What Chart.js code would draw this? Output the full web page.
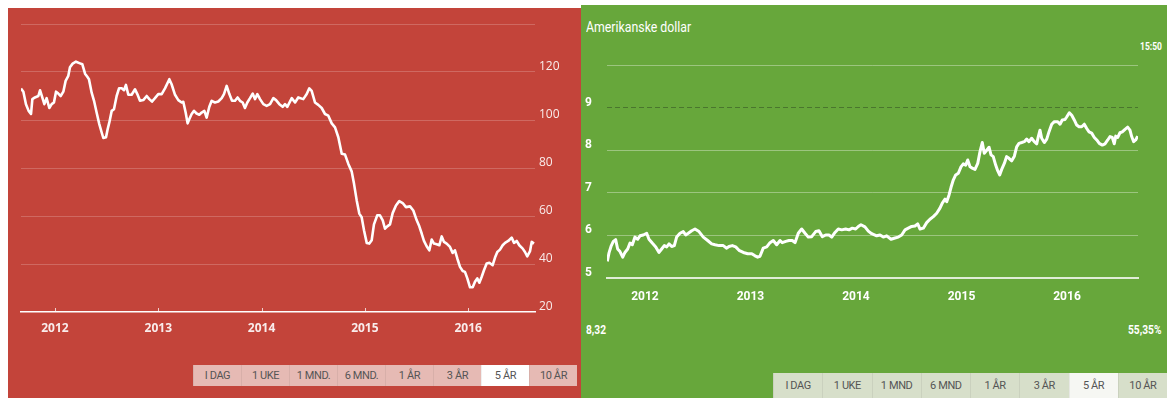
<!DOCTYPE html>
<html>
<head>
<meta charset="utf-8">
<script src="https://cdn.jsdelivr.net/npm/chart.js@4.4.1/dist/chart.umd.min.js"></script>
<style>
  body { margin: 0; background: #fff; width: 1167px; height: 398px; overflow: hidden; position: relative; font-family: Roboto, "Open Sans", sans-serif; }
  .panel { position: absolute; }
  #oilPanel { left: 8px; top: 8px; width: 573px; height: 390px; background: #c3443a; }
  #usdPanel { left: 581px; top: 5px; width: 586px; height: 393px; background: #67a73b; }
  canvas { position: absolute; }
  .bar { position: absolute; display: flex; }
  .bar div { flex: 1; text-align: center; font-size: 11px; color: #555; letter-spacing: -0.4px; border-left: 1px solid rgba(0,0,0,0.06); }
  .bar div.on { background: #fff; }
  #oilBar { left: 185px; top: 357px; width: 384px; height: 21px; background: #e6bab4; }
  #oilBar div { line-height: 21px; }
  #usdBar { left: 192px; top: 368px; width: 394px; height: 25px; background: #d7dfca; }
  #usdBar div { line-height: 25px; }
  #usdBar div.on { background: #f6f7f3; }
  .txt { position: absolute; color: #fff; white-space: nowrap; transform-origin: left center; }
</style>
</head>
<body>
<div class="panel" id="oilPanel">
  <canvas id="oilChart" style="left:0;top:0"></canvas>
  <div class="bar" id="oilBar"></div>
</div>
<div class="panel" id="usdPanel">
  <div class="txt" style="left:5px;top:14px;font-size:14px;transform:scaleX(0.88)">Amerikanske dollar</div>
  <div class="txt" style="left:559px;top:36px;font-size:10px;font-weight:bold;transform:scaleX(0.85)">15:50</div>
  <canvas id="usdChart" style="left:0;top:0"></canvas>
  <div class="txt" style="left:5px;top:318px;font-size:12px;font-weight:bold;transform:scaleX(0.85)">8,32</div>
  <div class="txt" style="left:547px;top:318px;font-size:12px;font-weight:bold;transform:scaleX(0.85)">55,35%</div>
  <div class="bar" id="usdBar"></div>
</div>
<script>
// Årstall på x-aksen
const yearTicks = [2012, 2013, 2014, 2015, 2016];

// Oljepris (venstre graf)
const oilYears = [
  2011.671, 2011.694, 2011.719, 2011.745, 2011.768, 2011.781, 2011.806, 2011.839, 2011.855, 2011.877,
  2011.897, 2011.919, 2011.945, 2011.968, 2011.990, 2012.010, 2012.032, 2012.055, 2012.081, 2012.103,
  2012.129, 2012.145, 2012.171, 2012.203, 2012.242, 2012.265, 2012.291, 2012.313, 2012.329, 2012.355,
  2012.378, 2012.403, 2012.429, 2012.452, 2012.468, 2012.494, 2012.510, 2012.526, 2012.549, 2012.571,
  2012.597, 2012.620, 2012.646, 2012.668, 2012.687, 2012.710, 2012.742, 2012.775, 2012.797, 2012.823,
  2012.855, 2012.888, 2012.913, 2012.939, 2012.968, 2013.000, 2013.033, 2013.065, 2013.107, 2013.129,
  2013.162, 2013.194, 2013.226, 2013.242, 2013.265, 2013.284, 2013.301, 2013.323, 2013.346, 2013.371,
  2013.397, 2013.420, 2013.446, 2013.468, 2013.494, 2013.517, 2013.549, 2013.581, 2013.614, 2013.636,
  2013.662, 2013.688, 2013.714, 2013.743, 2013.768, 2013.791, 2013.817, 2013.839, 2013.862, 2013.888,
  2013.914, 2013.936, 2013.959, 2013.985, 2014.017, 2014.049, 2014.082, 2014.114, 2014.140, 2014.172,
  2014.204, 2014.227, 2014.249, 2014.292, 2014.324, 2014.355, 2014.404, 2014.437, 2014.462, 2014.485,
  2014.517, 2014.549, 2014.582, 2014.614, 2014.646, 2014.679, 2014.711, 2014.743, 2014.776, 2014.808,
  2014.840, 2014.872, 2014.895, 2014.921, 2014.946, 2014.969, 2014.992, 2015.018, 2015.043, 2015.066,
  2015.088, 2015.120, 2015.146, 2015.173, 2015.195, 2015.217, 2015.243, 2015.269, 2015.301, 2015.333,
  2015.366, 2015.398, 2015.437, 2015.469, 2015.502, 2015.527, 2015.550, 2015.572, 2015.598, 2015.624,
  2015.647, 2015.669, 2015.695, 2015.721, 2015.744, 2015.766, 2015.792, 2015.824, 2015.850, 2015.872,
  2015.895, 2015.921, 2015.947, 2015.969, 2015.992, 2016.018, 2016.044, 2016.066, 2016.088, 2016.108,
  2016.131, 2016.153, 2016.179, 2016.205, 2016.237, 2016.260, 2016.282, 2016.308, 2016.334, 2016.357,
  2016.388, 2016.421, 2016.444, 2016.470, 2016.495, 2016.528, 2016.550, 2016.572, 2016.599, 2016.615,
  2016.637
];
const oilPrices = [
  113.1, 111.8, 106.6, 103.8, 102.5, 108.7, 109.4, 110.0, 112.4, 109.4,
  106.6, 109.1, 105.0, 106.6, 107.3, 111.8, 111.0, 110.0, 111.8, 116.3,
  118.4, 122.0, 123.5, 124.3, 123.6, 123.2, 119.3, 118.0, 117.0, 111.4,
  108.0, 103.1, 98.3, 94.8, 92.5, 92.8, 96.2, 99.0, 103.8, 104.5,
  110.0, 113.2, 113.2, 112.4, 114.6, 110.5, 110.5, 112.8, 110.8, 108.0,
  108.3, 110.0, 108.7, 107.7, 109.1, 110.8, 110.8, 113.2, 117.0, 114.9,
  110.5, 108.3, 107.3, 107.6, 103.1, 98.6, 100.4, 102.5, 103.8, 102.7,
  102.2, 103.1, 103.8, 101.0, 105.5, 108.0, 107.3, 107.7, 109.1, 110.8,
  114.2, 110.8, 108.0, 108.0, 109.4, 108.0, 107.3, 105.0, 107.3, 109.1,
  111.0, 108.7, 110.8, 108.7, 106.6, 105.9, 106.6, 109.1, 108.3, 106.6,
  105.5, 106.6, 105.5, 109.1, 107.3, 109.4, 108.7, 110.8, 113.2, 112.1,
  107.3, 106.3, 105.0, 102.5, 101.8, 98.6, 96.9, 92.8, 85.9, 85.6,
  81.7, 78.6, 73.4, 66.5, 61.0, 59.5, 54.0, 48.8, 48.5, 49.9,
  56.5, 60.3, 60.3, 58.2, 54.7, 55.7, 56.5, 61.2, 64.4, 66.2,
  65.4, 63.7, 64.0, 62.3, 58.2, 55.7, 52.7, 49.6, 47.4, 45.7,
  50.2, 48.5, 48.2, 47.8, 51.5, 49.2, 48.5, 47.1, 44.6, 45.7,
  42.3, 38.8, 37.1, 36.7, 34.0, 30.3, 30.3, 32.6, 34.0, 32.2,
  34.7, 37.4, 40.2, 40.5, 39.5, 42.7, 45.0, 46.0, 47.8, 48.8,
  49.6, 51.0, 48.8, 49.6, 47.8, 46.4, 45.0, 43.2, 45.4, 49.2,
  48.5
];
const oilRange = [2011.671, 2016.647];
const oilAxis = [20, 140, 20];

// Amerikanske dollar i kroner (høyre graf)
const usdYears = [
  2011.643, 2011.659, 2011.678, 2011.700, 2011.722, 2011.741, 2011.763, 2011.789, 2011.810, 2011.836,
  2011.858, 2011.880, 2011.905, 2011.931, 2011.953, 2011.984, 2012.016, 2012.038, 2012.069, 2012.102,
  2012.133, 2012.158, 2012.183, 2012.206, 2012.228, 2012.253, 2012.278, 2012.300, 2012.332, 2012.363,
  2012.386, 2012.410, 2012.443, 2012.474, 2012.512, 2012.553, 2012.594, 2012.632, 2012.664, 2012.702,
  2012.742, 2012.775, 2012.796, 2012.828, 2012.860, 2012.891, 2012.932, 2012.974, 2013.012, 2013.043,
  2013.068, 2013.090, 2013.121, 2013.154, 2013.185, 2013.216, 2013.248, 2013.280, 2013.301, 2013.334,
  2013.365, 2013.396, 2013.422, 2013.453, 2013.485, 2013.517, 2013.548, 2013.580, 2013.618, 2013.649,
  2013.681, 2013.713, 2013.744, 2013.770, 2013.801, 2013.832, 2013.865, 2013.902, 2013.934, 2013.965,
  2013.997, 2014.022, 2014.047, 2014.085, 2014.117, 2014.149, 2014.196, 2014.228, 2014.259, 2014.291,
  2014.332, 2014.370, 2014.401, 2014.433, 2014.465, 2014.496, 2014.528, 2014.559, 2014.585, 2014.607,
  2014.638, 2014.670, 2014.701, 2014.733, 2014.765, 2014.796, 2014.818, 2014.844, 2014.860, 2014.882,
  2014.901, 2014.922, 2014.945, 2014.970, 2014.995, 2015.017, 2015.040, 2015.059, 2015.081, 2015.102,
  2015.128, 2015.154, 2015.175, 2015.197, 2015.216, 2015.239, 2015.261, 2015.280, 2015.301, 2015.324,
  2015.343, 2015.362, 2015.381, 2015.406, 2015.428, 2015.450, 2015.476, 2015.501, 2015.523, 2015.545,
  2015.571, 2015.595, 2015.618, 2015.640, 2015.665, 2015.690, 2015.713, 2015.728, 2015.744, 2015.760,
  2015.785, 2015.808, 2015.829, 2015.855, 2015.880, 2015.912, 2015.934, 2015.955, 2015.981, 2015.997,
  2016.022, 2016.045, 2016.069, 2016.092, 2016.114, 2016.139, 2016.164, 2016.187, 2016.209, 2016.234,
  2016.259, 2016.282, 2016.306, 2016.335, 2016.360, 2016.386, 2016.408, 2016.429, 2016.448, 2016.462,
  2016.481, 2016.502, 2016.524, 2016.550, 2016.575, 2016.597, 2016.613, 2016.632, 2016.651, 2016.670
];
const usdRates = [
  5.39, 5.59, 5.74, 5.86, 5.90, 5.68, 5.62, 5.49, 5.60, 5.68,
  5.82, 5.78, 5.96, 5.91, 5.99, 6.01, 6.05, 5.91, 5.82, 5.73,
  5.60, 5.68, 5.76, 5.73, 5.80, 5.74, 5.76, 5.96, 6.05, 6.09,
  6.01, 6.05, 6.11, 6.15, 6.09, 5.96, 5.88, 5.80, 5.78, 5.76,
  5.76, 5.70, 5.74, 5.76, 5.73, 5.65, 5.60, 5.57, 5.57, 5.52,
  5.49, 5.51, 5.70, 5.73, 5.83, 5.88, 5.78, 5.88, 5.83, 5.86,
  5.88, 5.88, 5.83, 6.05, 6.15, 6.05, 5.96, 5.97, 6.09, 6.11,
  5.97, 6.01, 6.01, 5.96, 6.07, 6.15, 6.13, 6.15, 6.13, 6.17,
  6.15, 6.21, 6.25, 6.20, 6.10, 6.04, 5.99, 6.01, 5.96, 5.99,
  5.91, 5.94, 5.96, 6.01, 6.13, 6.17, 6.21, 6.22, 6.27, 6.15,
  6.17, 6.30, 6.38, 6.44, 6.52, 6.64, 6.76, 6.85, 6.79, 6.95,
  7.13, 7.30, 7.42, 7.46, 7.61, 7.68, 7.65, 7.77, 7.61, 7.58,
  7.55, 7.69, 7.96, 8.18, 7.93, 8.00, 8.07, 7.89, 7.85, 7.65,
  7.52, 7.42, 7.55, 7.69, 7.85, 7.81, 7.75, 7.86, 8.08, 8.16,
  8.18, 8.20, 8.26, 8.20, 8.28, 8.20, 8.15, 8.32, 8.47, 8.28,
  8.18, 8.26, 8.43, 8.61, 8.67, 8.67, 8.61, 8.71, 8.72, 8.78,
  8.88, 8.82, 8.71, 8.59, 8.55, 8.55, 8.61, 8.51, 8.43, 8.40,
  8.30, 8.24, 8.16, 8.12, 8.15, 8.24, 8.32, 8.30, 8.15, 8.33,
  8.30, 8.41, 8.43, 8.49, 8.54, 8.47, 8.32, 8.20, 8.24, 8.33
];
const usdRange = [2011.640, 2016.673];
const usdAxis = [5, 10, 1];
const usdRefLine = 9;

// Knapper under grafene
const oilButtons = ['I DAG', '1 UKE', '1 MND.', '6 MND.', '1 ÅR', '3 ÅR', '5 ÅR', '10 ÅR'];
const usdButtons = ['I DAG', '1 UKE', '1 MND', '6 MND', '1 ÅR', '3 ÅR', '5 ÅR', '10 ÅR'];
const activeButton = '5 ÅR';

function fillButtons(id, labels) {
  const bar = document.getElementById(id);
  labels.forEach(function(l) {
    const d = document.createElement('div');
    d.textContent = l;
    if (l === activeButton) d.className = 'on';
    bar.appendChild(d);
  });
}
fillButtons('oilBar', oilButtons);
fillButtons('usdBar', usdButtons);

function toPoints(xs, ys) {
  return xs.map(function(x, i) { return { x: x, y: ys[i] }; });
}

// små oppoverrettede streker ved årstallene
const yearTickMarks = {
  id: 'yearTickMarks',
  afterDatasetsDraw(chart) {
    const { ctx, chartArea } = chart;
    const x = chart.scales.x;
    ctx.save();
    ctx.strokeStyle = 'rgba(255,255,255,0.75)';
    ctx.lineWidth = 1;
    x.ticks.forEach(function(t) {
      const px = Math.round(x.getPixelForValue(t.value)) + 0.5;
      ctx.beginPath();
      ctx.moveTo(px, chartArea.bottom);
      ctx.lineTo(px, chartArea.bottom - 4);
      ctx.stroke();
    });
    ctx.restore();
  }
};

function setYearTicks(scale) {
  scale.ticks = yearTicks.map(function(v) { return { value: v }; });
}

// Oljegrafen
const oilCanvas = document.getElementById('oilChart');
oilCanvas.width = 573; oilCanvas.height = 340;
new Chart(oilCanvas, {
  type: 'line',
  data: {
    datasets: [{
      data: toPoints(oilYears, oilPrices),
      borderColor: '#fff',
      borderWidth: 2.6,
      pointRadius: 0,
      tension: 0,
      borderJoinStyle: 'round'
    }]
  },
  options: {
    responsive: false,
    animation: false,
    layout: { padding: { left: 13, top: 16, right: 0, bottom: 0 } },
    plugins: { legend: { display: false }, tooltip: { enabled: false } },
    scales: {
      x: {
        type: 'linear',
        min: oilRange[0], max: oilRange[1],
        afterBuildTicks: setYearTicks,
        afterFit: function(s) { s.height = 36; },
        grid: { display: false, drawTicks: false },
        border: { display: true, color: '#fff', width: 1.5 },
        ticks: {
          padding: 9,
          color: 'rgba(255,255,255,0.9)',
          font: { family: 'Open Sans', size: 12, weight: 'bold' },
          maxRotation: 0,
          callback: function(v) { return String(v); }
        }
      },
      y: {
        position: 'right',
        min: oilAxis[0], max: oilAxis[1],
        afterFit: function(s) { s.width = 46; },
        grid: {
          drawTicks: false,
          color: function(c) { return c.tick && c.tick.value === oilAxis[0] ? 'rgba(0,0,0,0)' : 'rgba(255,255,255,0.2)'; }
        },
        border: { display: false },
        ticks: {
          stepSize: oilAxis[2],
          padding: 4,
          labelOffset: -5,
          color: 'rgba(255,255,255,0.9)',
          font: { family: 'Open Sans', size: 12 },
          callback: function(v) { return v === oilAxis[1] ? '' : String(v); }
        }
      }
    }
  },
  plugins: [yearTickMarks]
});

// Dollargrafen
const usdCanvas = document.getElementById('usdChart');
usdCanvas.width = 586; usdCanvas.height = 310;
new Chart(usdCanvas, {
  type: 'line',
  data: {
    datasets: [{
      data: toPoints(usdYears, usdRates),
      borderColor: '#fff',
      borderWidth: 3,
      pointRadius: 0,
      tension: 0,
      borderJoinStyle: 'round'
    }]
  },
  options: {
    responsive: false,
    animation: false,
    layout: { padding: { left: 0, top: 60, right: 29, bottom: 0 } },
    plugins: { legend: { display: false }, tooltip: { enabled: false } },
    scales: {
      x: {
        type: 'linear',
        min: usdRange[0], max: usdRange[1],
        afterBuildTicks: setYearTicks,
        afterFit: function(s) { s.height = 37; },
        grid: { display: false, drawTicks: false },
        border: { display: true, color: 'rgba(255,255,255,0.8)', width: 2 },
        ticks: {
          padding: 12,
          color: '#fff',
          font: { family: 'Roboto', size: 12, weight: 'bold' },
          maxRotation: 0,
          callback: function(v) { return String(v); }
        }
      },
      y: {
        position: 'left',
        min: usdAxis[0], max: usdAxis[1],
        afterFit: function(s) { s.width = 26; },
        grid: {
          drawTicks: false,
          lineWidth: 1,
          color: function(c) {
            if (!c.tick) return 'rgba(255,255,255,0.35)';
            if (c.tick.value === usdAxis[0]) return 'rgba(0,0,0,0)';
            if (c.tick.value === usdRefLine) return 'rgba(40,60,30,0.45)';
            return 'rgba(255,255,255,0.35)';
          }
        },
        border: {
          display: false,
          dash: function(c) { return c.tick && c.tick.value === usdRefLine ? [5, 3] : []; }
        },
        ticks: {
          stepSize: usdAxis[2],
          padding: 15,
          labelOffset: -5,
          color: '#fff',
          font: { family: 'Roboto', size: 12, weight: 'bold' },
          callback: function(v) { return v === usdAxis[1] ? '' : String(v); }
        }
      }
    }
  }
});
</script>
</body>
</html>
